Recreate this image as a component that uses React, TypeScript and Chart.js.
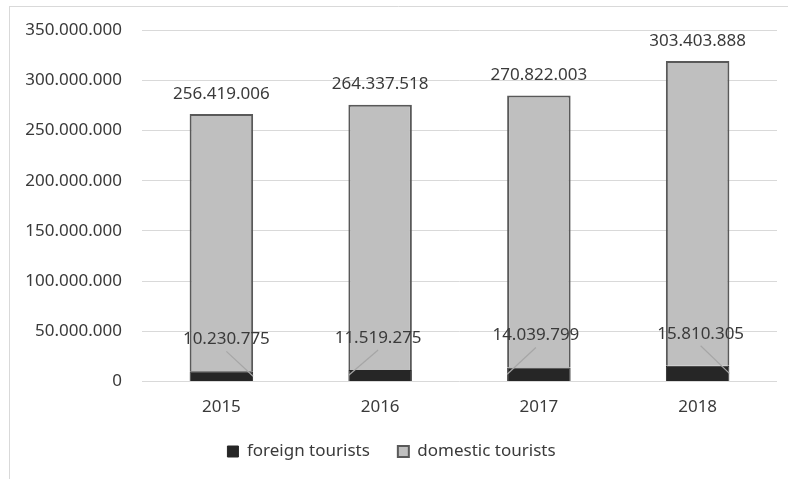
import React, { useEffect, useRef } from "react";
import { Chart, registerables } from "chart.js";

Chart.register(...registerables);

// ---- data ----
const years = ["2015", "2016", "2017", "2018"];
const seriesNames = ["foreign tourists", "domestic tourists"];
const foreignTourists = [10230775, 11519275, 14039799, 15810305];
const domesticTourists = [256419006, 264337518, 270822003, 303403888];
const yMax = 350000000;
const yStep = 50000000;

// ---- style ----
const FONT = "'Noto Sans', 'Open Sans', sans-serif";
const TEXT = "#3a3a3a";
const foreignLabelShiftX = [5, -2, -3, 3];

const fmt = (n: number) => Math.round(n).toString().replace(/\B(?=(\d{3})+(?!\d))/g, ".");

const framePlugin = {
  id: "frame",
  beforeDraw(chart: any) {
    const { ctx, width, height } = chart;
    ctx.save();
    ctx.fillStyle = "#ffffff";
    ctx.fillRect(0, 0, width, height);
    ctx.strokeStyle = "#d9d9d9";
    ctx.lineWidth = 1;
    ctx.beginPath();
    ctx.moveTo(9, 6.5);
    ctx.lineTo(width, 6.5);
    ctx.moveTo(9.5, 6);
    ctx.lineTo(9.5, height);
    ctx.stroke();
    ctx.restore();
  },
};

const labelPlugin = {
  id: "valueLabels",
  afterDatasetsDraw(chart: any) {
    const { ctx } = chart;
    const m0 = chart.getDatasetMeta(0);
    const m1 = chart.getDatasetMeta(1);
    ctx.save();
    ctx.font = `17px ${FONT}`;
    ctx.fillStyle = TEXT;
    ctx.textAlign = "center";
    ctx.textBaseline = "middle";
    m1.data.forEach((bar: any, i: number) => {
      ctx.fillText(fmt(domesticTourists[i]), bar.x, bar.y - 20);
    });
    m0.data.forEach((bar: any, i: number) => {
      const dx = foreignLabelShiftX[i];
      const lx = bar.x + dx;
      const ly = bar.y - 32;
      const ex = bar.x + (dx >= 0 ? bar.width / 2 : -bar.width / 2);
      const ey = (bar.y + bar.base) / 2;
      ctx.strokeStyle = "#a6a6a6";
      ctx.lineWidth = 1.2;
      ctx.beginPath();
      ctx.moveTo(lx, ly + 12);
      ctx.lineTo(ex, ey);
      ctx.stroke();
      ctx.fillText(fmt(foreignTourists[i]), lx, ly);
    });
    ctx.restore();
  },
};

export default function App() {
  const ref = useRef<HTMLCanvasElement | null>(null);
  useEffect(() => {
    if (!ref.current) return;
    const chart = new Chart(ref.current, {
      type: "bar",
      data: {
        labels: years,
        datasets: [
          {
            label: seriesNames[0],
            data: foreignTourists,
            backgroundColor: "#262626",
            borderColor: "#262626",
            borderWidth: 1,
            barPercentage: 0.4,
            categoryPercentage: 1,
          },
          {
            label: seriesNames[1],
            data: domesticTourists,
            backgroundColor: "#bfbfbf",
            borderColor: "#595959",
            borderWidth: 2,
            barPercentage: 0.4,
            categoryPercentage: 1,
          },
        ],
      },
      options: {
        animation: false,
        responsive: true,
        maintainAspectRatio: false,
        layout: { padding: { top: 30, left: 6, right: 11, bottom: 9 } },
        scales: {
          x: {
            stacked: true,
            grid: { display: false, drawTicks: false },
            border: { display: false },
            ticks: { color: TEXT, font: { family: FONT, size: 17 }, padding: 15 },
          },
          y: {
            stacked: true,
            min: 0,
            max: yMax,
            border: { display: false },
            grid: { color: "#d9d9d9", lineWidth: 1, drawTicks: false },
            ticks: {
              stepSize: yStep,
              color: TEXT,
              font: { family: FONT, size: 17 },
              padding: 20,
              callback: (v: any) => fmt(Number(v)),
            },
            afterFit: (scale: any) => {
              scale.width = 136;
            },
          },
        },
        plugins: {
          legend: {
            position: "bottom",
            labels: {
              boxWidth: 11,
              boxHeight: 11,
              padding: 11,
              color: TEXT,
              font: { family: FONT, size: 17 },
              generateLabels: (chart: any) => {
                const items = Chart.defaults.plugins.legend.labels.generateLabels(chart);
                return items.map((it: any, i: number) =>
                  i < items.length - 1 ? { ...it, text: it.text + "\u2003" } : it
                );
              },
            },
          },
          tooltip: { enabled: false },
        },
      },
      plugins: [framePlugin, labelPlugin],
    });
    return () => chart.destroy();
  }, []);
  return (
    <div style={{ position: "fixed", left: 0, top: 0, width: 788, height: 479, background: "#fff" }}>
      <canvas ref={ref} />
    </div>
  );
}
